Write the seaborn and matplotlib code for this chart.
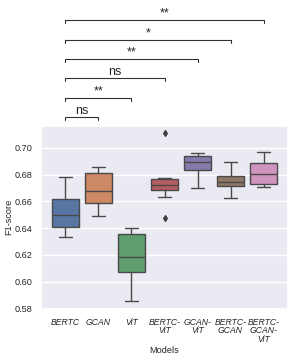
import matplotlib
matplotlib.use("Agg")
import matplotlib.pyplot as plt
import matplotlib.transforms as mtransforms
import seaborn as sns
import pandas as pd

# F1-scores per model
models = ["BERTC", "GCAN", "ViT", "BERTC-ViT", "GCAN-ViT", "BERTC-GCAN", "BERTC-GCAN-ViT"]
tick_labels = ["BERTC", "GCAN", "ViT", "BERTC-\nViT", "GCAN-\nViT", "BERTC-\nGCAN", "BERTC-\nGCAN-\nViT"]

bertc = [0.6332, 0.6407, 0.6496, 0.6618, 0.6782]
gcan = [0.6488, 0.6585, 0.6680, 0.6816, 0.6859]
vit = [0.5856, 0.6074, 0.6188, 0.6360, 0.6404]
bertc_vit = [0.6477, 0.6637, 0.6687, 0.6705, 0.6722, 0.6745, 0.6769, 0.6774, 0.7109]
gcan_vit = [0.6702, 0.6836, 0.6896, 0.6943, 0.6961]
bertc_gcan = [0.6628, 0.6715, 0.6749, 0.6794, 0.6896]
bertc_gcan_vit = [0.6707, 0.6732, 0.6804, 0.6886, 0.6970]

# significance annotations (BERTC vs. others)
pairs = [("BERTC", "GCAN"), ("BERTC", "ViT"), ("BERTC", "BERTC-ViT"),
         ("BERTC", "GCAN-ViT"), ("BERTC", "BERTC-GCAN"), ("BERTC", "BERTC-GCAN-ViT")]
pair_labels = ["ns", "**", "ns", "**", "*", "**"]

series = [bertc, gcan, vit, bertc_vit, gcan_vit, bertc_gcan, bertc_gcan_vit]
rows = []
for name, vals in zip(models, series):
    for v in vals:
        rows.append({"Models": name, "F1-score": v})
df = pd.DataFrame(rows)

sns.set_theme(style="darkgrid")
plt.rcParams['font.family'] = ['Liberation Sans', 'DejaVu Sans']

fig = plt.figure(figsize=(2.94, 3.61), dpi=100)
ax = fig.add_axes([41 / 294, 1 - 308.5 / 361, 247 / 294, 182.5 / 361])

sns.boxplot(
    data=df, x="Models", y="F1-score", hue="Models", order=models,
    hue_order=models, palette="deep", legend=False, width=0.8,
    linewidth=1,
    flierprops={"marker": "d", "markersize": 3, "markerfacecolor": "0.25",
                "markeredgecolor": "0.25"},
    ax=ax
)

ax.set_ylim(0.5805, 0.7164)
ax.set_yticks([0.58, 0.60, 0.62, 0.64, 0.66, 0.68, 0.70])
ax.set_yticklabels([f"{t:.2f}" for t in ax.get_yticks()])
ax.set_xticks(range(len(models)))
ax.set_xticklabels(tick_labels, fontstyle="italic", fontsize=6.2, linespacing=0.95)
ax.tick_params(axis="y", labelsize=6.6, pad=0)
ax.tick_params(axis="x", pad=0.5)
ax.set_xlabel("Models", fontsize=6.6, labelpad=1.5)
ax.set_ylabel("F1-score", fontsize=6.6, labelpad=1)

# brackets above the axes
trans = mtransforms.blended_transform_factory(ax.transData, ax.transAxes)
y0, step, tip = 1.049, 0.106, 0.017
for i, ((a, b), lab) in enumerate(zip(pairs, pair_labels)):
    xa, xb = models.index(a), models.index(b)
    y = y0 + i * step
    ax.plot([xa, xa, xb, xb], [y - tip, y, y, y - tip], color="0.2", lw=0.8,
            transform=trans, clip_on=False)
    ax.annotate(lab, xy=((xa + xb) / 2, y), xycoords=trans, xytext=(0, 2.5),
                textcoords="offset points", ha="center", va="baseline", fontsize=9)

fig.savefig("out.png", dpi=100)
